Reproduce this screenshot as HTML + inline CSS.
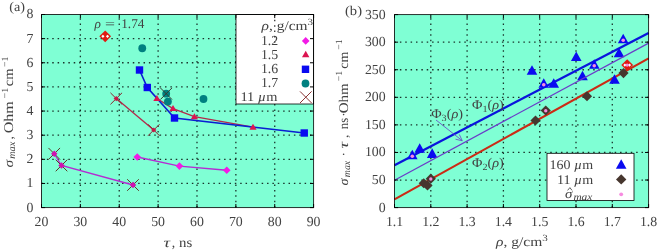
<!DOCTYPE html>
<html><head><meta charset="utf-8"><title>chart</title>
<style>html,body{margin:0;padding:0;background:#fff;}body{width:658px;height:251px;overflow:hidden;font-family:"Liberation Serif",serif;}svg{display:block;text-rendering:geometricPrecision;will-change:transform;opacity:0.999}</style>
</head><body>
<svg width="658" height="251" viewBox="0 0 658 251">
<rect width="658" height="251" fill="#fff"/>
<rect x="41.5" y="14.5" width="272.1" height="193.1" fill="#7fffd4"/>
<line x1="80.37" y1="207.6" x2="80.37" y2="14.5" stroke="#000" stroke-opacity="0.8" stroke-width="1.3" stroke-dasharray="1.5 3.87"/>
<line x1="119.24" y1="207.6" x2="119.24" y2="14.5" stroke="#000" stroke-opacity="0.8" stroke-width="1.3" stroke-dasharray="1.5 3.87"/>
<line x1="158.11" y1="207.6" x2="158.11" y2="14.5" stroke="#000" stroke-opacity="0.8" stroke-width="1.3" stroke-dasharray="1.5 3.87"/>
<line x1="196.99" y1="207.6" x2="196.99" y2="14.5" stroke="#000" stroke-opacity="0.8" stroke-width="1.3" stroke-dasharray="1.5 3.87"/>
<line x1="235.86" y1="207.6" x2="235.86" y2="14.5" stroke="#000" stroke-opacity="0.8" stroke-width="1.3" stroke-dasharray="1.5 3.87"/>
<line x1="274.73" y1="207.6" x2="274.73" y2="14.5" stroke="#000" stroke-opacity="0.8" stroke-width="1.3" stroke-dasharray="1.5 3.87"/>
<line x1="41.5" y1="38.64" x2="313.6" y2="38.64" stroke="#000" stroke-opacity="0.8" stroke-width="1.3" stroke-dasharray="1.5 3.87"/>
<line x1="41.5" y1="62.77" x2="313.6" y2="62.77" stroke="#000" stroke-opacity="0.8" stroke-width="1.3" stroke-dasharray="1.5 3.87"/>
<line x1="41.5" y1="86.91" x2="313.6" y2="86.91" stroke="#000" stroke-opacity="0.8" stroke-width="1.3" stroke-dasharray="1.5 3.87"/>
<line x1="41.5" y1="111.05" x2="313.6" y2="111.05" stroke="#000" stroke-opacity="0.8" stroke-width="1.3" stroke-dasharray="1.5 3.87"/>
<line x1="41.5" y1="135.19" x2="313.6" y2="135.19" stroke="#000" stroke-opacity="0.8" stroke-width="1.3" stroke-dasharray="1.5 3.87"/>
<line x1="41.5" y1="159.32" x2="313.6" y2="159.32" stroke="#000" stroke-opacity="0.8" stroke-width="1.3" stroke-dasharray="1.5 3.87"/>
<line x1="41.5" y1="183.46" x2="313.6" y2="183.46" stroke="#000" stroke-opacity="0.8" stroke-width="1.3" stroke-dasharray="1.5 3.87"/>
<polyline points="54.25,153.75 61.50,165.50 133.00,185.00" fill="none" stroke="#b42cd2" stroke-width="1.3"/>
<path d="M48.45,147.95 L60.05,159.55 M48.45,159.55 L60.05,147.95" stroke="#5a3c28" stroke-width="1" fill="none"/>
<path d="M51.05,153.75 L54.25,150.55 L57.45,153.75 L54.25,156.95Z" fill="#d010b0" stroke="none" stroke-width="0"/>
<path d="M55.70,159.70 L67.30,171.30 M55.70,171.30 L67.30,159.70" stroke="#5a3c28" stroke-width="1" fill="none"/>
<path d="M58.30,165.50 L61.50,162.30 L64.70,165.50 L61.50,168.70Z" fill="#d010b0" stroke="none" stroke-width="0"/>
<path d="M127.20,179.20 L138.80,190.80 M127.20,190.80 L138.80,179.20" stroke="#5a3c28" stroke-width="1" fill="none"/>
<path d="M129.80,185.00 L133.00,181.80 L136.20,185.00 L133.00,188.20Z" fill="#d010b0" stroke="none" stroke-width="0"/>
<polyline points="116.25,98.60 153.75,130.00" fill="none" stroke="#b4284a" stroke-width="1.3"/>
<path d="M110.45,92.80 L122.05,104.40 M110.45,104.40 L122.05,92.80" stroke="#8a2830" stroke-width="1" fill="none"/>
<path d="M113.65,98.60 L116.25,96.00 L118.85,98.60 L116.25,101.20Z" fill="#c81848" stroke="none" stroke-width="0"/>
<path d="M147.95,124.20 L159.55,135.80 M147.95,135.80 L159.55,124.20" stroke="#8a2830" stroke-width="1" fill="none"/>
<path d="M151.15,130.00 L153.75,127.40 L156.35,130.00 L153.75,132.60Z" fill="#c81848" stroke="none" stroke-width="0"/>
<polyline points="137.25,157.00 179.40,166.10 226.75,170.25" fill="none" stroke="#b42cd2" stroke-width="1.3"/>
<path d="M133.45,157.00 L137.25,153.20 L141.05,157.00 L137.25,160.80Z" fill="#f21ae6" stroke="none" stroke-width="0"/>
<path d="M175.60,166.10 L179.40,162.30 L183.20,166.10 L179.40,169.90Z" fill="#f21ae6" stroke="none" stroke-width="0"/>
<path d="M222.95,170.25 L226.75,166.45 L230.55,170.25 L226.75,174.05Z" fill="#f21ae6" stroke="none" stroke-width="0"/>
<polyline points="156.90,98.50 173.00,108.60 194.40,116.70 253.00,127.20" fill="none" stroke="#b4284a" stroke-width="1.25"/>
<polyline points="139.50,70.00 147.30,87.50 174.50,118.00 304.25,133.00" fill="none" stroke="#0a1ed2" stroke-width="1.6"/>
<path d="M153.30,101.02 L156.90,95.02 L160.50,101.02Z" fill="#dc1450" stroke="none" stroke-width="0"/>
<path d="M169.40,111.12 L173.00,105.12 L176.60,111.12Z" fill="#dc1450" stroke="none" stroke-width="0"/>
<path d="M190.80,119.22 L194.40,113.22 L198.00,119.22Z" fill="#dc1450" stroke="none" stroke-width="0"/>
<path d="M249.40,129.72 L253.00,123.72 L256.60,129.72Z" fill="#dc1450" stroke="none" stroke-width="0"/>
<rect x="135.80" y="66.30" width="7.4" height="7.4" fill="#0a0af0"/>
<rect x="143.60" y="83.80" width="7.4" height="7.4" fill="#0a0af0"/>
<rect x="170.80" y="114.30" width="7.4" height="7.4" fill="#0a0af0"/>
<rect x="300.55" y="129.30" width="7.4" height="7.4" fill="#0a0af0"/>
<circle cx="142.25" cy="48.25" r="3.9" fill="#008080"/>
<circle cx="166.20" cy="93.70" r="3.9" fill="#008080"/>
<circle cx="167.90" cy="101.60" r="3.9" fill="#008080"/>
<circle cx="203.50" cy="99.00" r="3.9" fill="#008080"/>
<path d="M160.40,87.90 L172.00,99.50 M160.40,99.50 L172.00,87.90" stroke="#3a3a30" stroke-width="1" fill="none"/>
<path d="M99.30,36.30 L105.20,30.40 L111.10,36.30 L105.20,42.20Z" fill="#e01a10" stroke="none" stroke-width="0"/>
<path d="M101.30,36.30 L102.90,34.70 L104.50,36.30 L102.90,37.90Z" fill="#fff" stroke="none" stroke-width="0"/>
<path d="M105.90,36.30 L107.50,34.70 L109.10,36.30 L107.50,37.90Z" fill="#fff" stroke="none" stroke-width="0"/>
<rect x="236" y="14.5" width="77.60000000000002" height="89.5" fill="#fff" stroke="#000" stroke-width="0.8"/>
<line x1="274.73" y1="14.5" x2="274.73" y2="44" stroke="#000" stroke-opacity="0.8" stroke-width="1.3" stroke-dasharray="1.5 3.87"/>
<rect x="41.5" y="14.5" width="272.1" height="193.1" fill="none" stroke="#000" stroke-opacity="0.9" stroke-width="0.9"/>
<line x1="41.50" y1="207.6" x2="41.50" y2="204.0" stroke="#000" stroke-width="1"/>
<line x1="41.50" y1="14.5" x2="41.50" y2="18.1" stroke="#000" stroke-width="1"/>
<line x1="80.37" y1="207.6" x2="80.37" y2="204.0" stroke="#000" stroke-width="1"/>
<line x1="80.37" y1="14.5" x2="80.37" y2="18.1" stroke="#000" stroke-width="1"/>
<line x1="119.24" y1="207.6" x2="119.24" y2="204.0" stroke="#000" stroke-width="1"/>
<line x1="119.24" y1="14.5" x2="119.24" y2="18.1" stroke="#000" stroke-width="1"/>
<line x1="158.11" y1="207.6" x2="158.11" y2="204.0" stroke="#000" stroke-width="1"/>
<line x1="158.11" y1="14.5" x2="158.11" y2="18.1" stroke="#000" stroke-width="1"/>
<line x1="196.99" y1="207.6" x2="196.99" y2="204.0" stroke="#000" stroke-width="1"/>
<line x1="196.99" y1="14.5" x2="196.99" y2="18.1" stroke="#000" stroke-width="1"/>
<line x1="235.86" y1="207.6" x2="235.86" y2="204.0" stroke="#000" stroke-width="1"/>
<line x1="235.86" y1="14.5" x2="235.86" y2="18.1" stroke="#000" stroke-width="1"/>
<line x1="274.73" y1="207.6" x2="274.73" y2="204.0" stroke="#000" stroke-width="1"/>
<line x1="274.73" y1="14.5" x2="274.73" y2="18.1" stroke="#000" stroke-width="1"/>
<line x1="313.60" y1="207.6" x2="313.60" y2="204.0" stroke="#000" stroke-width="1"/>
<line x1="313.60" y1="14.5" x2="313.60" y2="18.1" stroke="#000" stroke-width="1"/>
<line x1="41.5" y1="14.50" x2="45.1" y2="14.50" stroke="#000" stroke-width="1"/>
<line x1="313.6" y1="14.50" x2="310.0" y2="14.50" stroke="#000" stroke-width="1"/>
<line x1="41.5" y1="38.64" x2="45.1" y2="38.64" stroke="#000" stroke-width="1"/>
<line x1="313.6" y1="38.64" x2="310.0" y2="38.64" stroke="#000" stroke-width="1"/>
<line x1="41.5" y1="62.77" x2="45.1" y2="62.77" stroke="#000" stroke-width="1"/>
<line x1="313.6" y1="62.77" x2="310.0" y2="62.77" stroke="#000" stroke-width="1"/>
<line x1="41.5" y1="86.91" x2="45.1" y2="86.91" stroke="#000" stroke-width="1"/>
<line x1="313.6" y1="86.91" x2="310.0" y2="86.91" stroke="#000" stroke-width="1"/>
<line x1="41.5" y1="111.05" x2="45.1" y2="111.05" stroke="#000" stroke-width="1"/>
<line x1="313.6" y1="111.05" x2="310.0" y2="111.05" stroke="#000" stroke-width="1"/>
<line x1="41.5" y1="135.19" x2="45.1" y2="135.19" stroke="#000" stroke-width="1"/>
<line x1="313.6" y1="135.19" x2="310.0" y2="135.19" stroke="#000" stroke-width="1"/>
<line x1="41.5" y1="159.32" x2="45.1" y2="159.32" stroke="#000" stroke-width="1"/>
<line x1="313.6" y1="159.32" x2="310.0" y2="159.32" stroke="#000" stroke-width="1"/>
<line x1="41.5" y1="183.46" x2="45.1" y2="183.46" stroke="#000" stroke-width="1"/>
<line x1="313.6" y1="183.46" x2="310.0" y2="183.46" stroke="#000" stroke-width="1"/>
<line x1="41.5" y1="207.60" x2="45.1" y2="207.60" stroke="#000" stroke-width="1"/>
<line x1="313.6" y1="207.60" x2="310.0" y2="207.60" stroke="#000" stroke-width="1"/>
<text x="94.4" y="28" font-family="Liberation Serif, serif" font-size="13.3" text-anchor="start" fill="#424242" font-style="italic">ρ</text>
<text x="105" y="28" font-family="Liberation Serif, serif" font-size="13.3" text-anchor="start" fill="#424242" lengthAdjust="spacingAndGlyphs" textLength="10">=</text>
<text x="121.2" y="28" font-family="Liberation Serif, serif" font-size="13.3" text-anchor="start" fill="#424242"  textLength="23.2" lengthAdjust="spacingAndGlyphs">1.74</text>
<text x="261.5" y="30" font-family="Liberation Serif, serif" font-size="13.3" text-anchor="start" fill="#424242"  textLength="51.6" lengthAdjust="spacingAndGlyphs"><tspan font-style="italic">ρ</tspan>, g/cm<tspan font-size="9.5" dy="-5">3</tspan></text>
<text x="278.2" y="44.9" font-family="Liberation Serif, serif" font-size="13.8" text-anchor="end" fill="#424242" >1.2</text>
<text x="278.2" y="58.8" font-family="Liberation Serif, serif" font-size="13.8" text-anchor="end" fill="#424242" >1.5</text>
<text x="278.2" y="72.9" font-family="Liberation Serif, serif" font-size="13.8" text-anchor="end" fill="#424242" >1.6</text>
<text x="278.2" y="87.3" font-family="Liberation Serif, serif" font-size="13.8" text-anchor="end" fill="#424242" >1.7</text>
<text x="240.4" y="101.4" font-family="Liberation Serif, serif" font-size="13.3" text-anchor="start" fill="#424242"  textLength="37" lengthAdjust="spacingAndGlyphs">11 <tspan font-style="italic">µ</tspan>m</text>
<path d="M301.90,40.90 L305.70,37.10 L309.50,40.90 L305.70,44.70Z" fill="#f21ae6" stroke="none" stroke-width="0"/>
<path d="M302.00,57.37 L305.70,50.77 L309.40,57.37Z" fill="#dc1450" stroke="none" stroke-width="0"/>
<rect x="301.80" y="65.60" width="7.4" height="7.4" fill="#0a0af0"/>
<circle cx="305.50" cy="83.50" r="3.9" fill="#008080"/>
<path d="M300.00,91.40 L311.60,103.00 M300.00,103.00 L311.60,91.40" stroke="#8a3434" stroke-width="1" fill="none"/>
<text x="41.50" y="226.4" font-family="Liberation Serif, serif" font-size="13.8" text-anchor="middle" fill="#424242" >20</text>
<text x="80.37" y="226.4" font-family="Liberation Serif, serif" font-size="13.8" text-anchor="middle" fill="#424242" >30</text>
<text x="119.24" y="226.4" font-family="Liberation Serif, serif" font-size="13.8" text-anchor="middle" fill="#424242" >40</text>
<text x="158.11" y="226.4" font-family="Liberation Serif, serif" font-size="13.8" text-anchor="middle" fill="#424242" >50</text>
<text x="196.99" y="226.4" font-family="Liberation Serif, serif" font-size="13.8" text-anchor="middle" fill="#424242" >60</text>
<text x="235.86" y="226.4" font-family="Liberation Serif, serif" font-size="13.8" text-anchor="middle" fill="#424242" >70</text>
<text x="274.73" y="226.4" font-family="Liberation Serif, serif" font-size="13.8" text-anchor="middle" fill="#424242" >80</text>
<text x="313.60" y="226.4" font-family="Liberation Serif, serif" font-size="13.8" text-anchor="middle" fill="#424242" >90</text>
<text x="33.4" y="211.50" font-family="Liberation Serif, serif" font-size="13.8" text-anchor="end" fill="#424242" >0</text>
<text x="33.4" y="187.36" font-family="Liberation Serif, serif" font-size="13.8" text-anchor="end" fill="#424242" >1</text>
<text x="33.4" y="163.22" font-family="Liberation Serif, serif" font-size="13.8" text-anchor="end" fill="#424242" >2</text>
<text x="33.4" y="139.09" font-family="Liberation Serif, serif" font-size="13.8" text-anchor="end" fill="#424242" >3</text>
<text x="33.4" y="114.95" font-family="Liberation Serif, serif" font-size="13.8" text-anchor="end" fill="#424242" >4</text>
<text x="33.4" y="90.81" font-family="Liberation Serif, serif" font-size="13.8" text-anchor="end" fill="#424242" >5</text>
<text x="33.4" y="66.68" font-family="Liberation Serif, serif" font-size="13.8" text-anchor="end" fill="#424242" >6</text>
<text x="33.4" y="42.54" font-family="Liberation Serif, serif" font-size="13.8" text-anchor="end" fill="#424242" >7</text>
<text x="33.4" y="18.40" font-family="Liberation Serif, serif" font-size="13.8" text-anchor="end" fill="#424242" >8</text>
<text x="9.2" y="11.3" font-family="Liberation Serif, serif" font-size="13.3" text-anchor="start" fill="#424242"  textLength="15.8" lengthAdjust="spacingAndGlyphs">(a)</text>
<g transform="translate(0,0) rotate(0)">
<text x="163.6" y="246.6" font-family="Liberation Serif, serif" font-size="13.8" fill="#424242" font-style="italic" textLength="6.6" lengthAdjust="spacingAndGlyphs">τ</text>
<text x="171.8" y="246.6" font-family="Liberation Serif, serif" font-size="13.8" fill="#424242">,</text>
<text x="179.0" y="246.6" font-family="Liberation Serif, serif" font-size="13.8" fill="#424242" textLength="13.2" lengthAdjust="spacingAndGlyphs">ns</text>
</g>
<g transform="translate(12.7,167.4) rotate(-90)">
<text x="0" y="0" font-family="Liberation Serif, serif" font-size="13.3" fill="#424242" font-style="italic" textLength="7.6" lengthAdjust="spacingAndGlyphs">σ</text>
<text x="8.6" y="2.4" font-family="Liberation Serif, serif" font-size="9.8" fill="#424242" font-style="italic" textLength="17" lengthAdjust="spacingAndGlyphs">max</text>
<text x="27.8" y="0" font-family="Liberation Serif, serif" font-size="13.3" fill="#424242">,</text>
<text x="34.2" y="0" font-family="Liberation Serif, serif" font-size="13.3" fill="#424242" textLength="32.0" lengthAdjust="spacingAndGlyphs">Ohm</text>
<text x="69.0" y="-5.2" font-family="Liberation Serif, serif" font-size="9.5" fill="#424242" textLength="10.6" lengthAdjust="spacingAndGlyphs">−1</text>
<text x="81.2" y="0" font-family="Liberation Serif, serif" font-size="13.3" fill="#424242" textLength="17.8" lengthAdjust="spacingAndGlyphs">cm</text>
<text x="100.3" y="-5.2" font-family="Liberation Serif, serif" font-size="9.5" fill="#424242" textLength="10.4" lengthAdjust="spacingAndGlyphs">−1</text>
</g>
<rect x="394.5" y="14.6" width="254.10000000000002" height="193.0" fill="#7fffd4"/>
<line x1="430.80" y1="207.6" x2="430.80" y2="14.6" stroke="#000" stroke-opacity="0.8" stroke-width="1.3" stroke-dasharray="1.5 3.87"/>
<line x1="467.10" y1="207.6" x2="467.10" y2="14.6" stroke="#000" stroke-opacity="0.8" stroke-width="1.3" stroke-dasharray="1.5 3.87"/>
<line x1="503.40" y1="207.6" x2="503.40" y2="14.6" stroke="#000" stroke-opacity="0.8" stroke-width="1.3" stroke-dasharray="1.5 3.87"/>
<line x1="539.70" y1="207.6" x2="539.70" y2="14.6" stroke="#000" stroke-opacity="0.8" stroke-width="1.3" stroke-dasharray="1.5 3.87"/>
<line x1="576.00" y1="207.6" x2="576.00" y2="14.6" stroke="#000" stroke-opacity="0.8" stroke-width="1.3" stroke-dasharray="1.5 3.87"/>
<line x1="612.30" y1="207.6" x2="612.30" y2="14.6" stroke="#000" stroke-opacity="0.8" stroke-width="1.3" stroke-dasharray="1.5 3.87"/>
<line x1="394.5" y1="42.17" x2="648.6" y2="42.17" stroke="#000" stroke-opacity="0.8" stroke-width="1.3" stroke-dasharray="1.5 3.87"/>
<line x1="394.5" y1="69.74" x2="648.6" y2="69.74" stroke="#000" stroke-opacity="0.8" stroke-width="1.3" stroke-dasharray="1.5 3.87"/>
<line x1="394.5" y1="97.31" x2="648.6" y2="97.31" stroke="#000" stroke-opacity="0.8" stroke-width="1.3" stroke-dasharray="1.5 3.87"/>
<line x1="394.5" y1="124.89" x2="648.6" y2="124.89" stroke="#000" stroke-opacity="0.8" stroke-width="1.3" stroke-dasharray="1.5 3.87"/>
<line x1="394.5" y1="152.46" x2="648.6" y2="152.46" stroke="#000" stroke-opacity="0.8" stroke-width="1.3" stroke-dasharray="1.5 3.87"/>
<line x1="394.5" y1="180.03" x2="648.6" y2="180.03" stroke="#000" stroke-opacity="0.8" stroke-width="1.3" stroke-dasharray="1.5 3.87"/>
<line x1="394.5" y1="199.4" x2="648.6" y2="58.3" stroke="#cc2a14" stroke-width="2.1"/>
<line x1="394.5" y1="165.2" x2="648.6" y2="32.9" stroke="#0a14dc" stroke-width="2.3"/>
<line x1="436" y1="120" x2="462" y2="140.5" stroke="#6a3cc8" stroke-width="0.8"/>
<path d="M462.3,140.8 L455.5,139.2 M462.3,140.8 L459.3,134.4" stroke="#6a3cc8" stroke-width="0.8" fill="none"/>
<path d="M418.65,183.25 L423.75,178.15 L428.85,183.25 L423.75,188.35Z" fill="#46362e" stroke="none" stroke-width="0"/>
<path d="M422.40,185.50 L427.50,180.40 L432.60,185.50 L427.50,190.60Z" fill="#46362e" stroke="none" stroke-width="0"/>
<path d="M425.70,178.70 L430.80,173.60 L435.90,178.70 L430.80,183.80Z" fill="#46362e" stroke="none" stroke-width="0"/>
<circle cx="430.80" cy="179.00" r="1.7" fill="#f78be0"/>
<path d="M581.90,96.25 L587.00,91.15 L592.10,96.25 L587.00,101.35Z" fill="#46362e" stroke="none" stroke-width="0"/>
<path d="M540.65,110.50 L545.75,105.40 L550.85,110.50 L545.75,115.60Z" fill="#46362e" stroke="none" stroke-width="0"/>
<circle cx="545.75" cy="110.80" r="1.7" fill="#f78be0"/>
<path d="M530.40,120.50 L535.50,115.40 L540.60,120.50 L535.50,125.60Z" fill="#46362e" stroke="none" stroke-width="0"/>
<path d="M618.40,73.10 L623.50,68.00 L628.60,73.10 L623.50,78.20Z" fill="#46362e" stroke="none" stroke-width="0"/>
<path d="M414.40,152.83 L419.70,143.23 L425.00,152.83Z" fill="#0a0af0" stroke="none" stroke-width="0"/>
<path d="M426.90,157.93 L432.20,148.33 L437.50,157.93Z" fill="#0a0af0" stroke="none" stroke-width="0"/>
<path d="M407.00,159.23 L412.30,149.63 L417.60,159.23Z" fill="#0a0af0" stroke="none" stroke-width="0"/>
<circle cx="412.30" cy="156.20" r="1.8" fill="#f78be0"/>
<path d="M570.95,61.03 L576.25,51.43 L581.55,61.03Z" fill="#0a0af0" stroke="none" stroke-width="0"/>
<path d="M526.70,74.78 L532.00,65.18 L537.30,74.78Z" fill="#0a0af0" stroke="none" stroke-width="0"/>
<path d="M588.95,68.73 L594.25,59.13 L599.55,68.73Z" fill="#0a0af0" stroke="none" stroke-width="0"/>
<circle cx="594.25" cy="65.70" r="1.8" fill="#f78be0"/>
<path d="M577.20,80.28 L582.50,70.68 L587.80,80.28Z" fill="#0a0af0" stroke="none" stroke-width="0"/>
<path d="M538.45,87.78 L543.75,78.18 L549.05,87.78Z" fill="#0a0af0" stroke="none" stroke-width="0"/>
<circle cx="543.75" cy="84.75" r="1.8" fill="#f78be0"/>
<path d="M548.45,87.78 L553.75,78.18 L559.05,87.78Z" fill="#0a0af0" stroke="none" stroke-width="0"/>
<path d="M617.90,43.33 L623.20,33.73 L628.50,43.33Z" fill="#0a0af0" stroke="none" stroke-width="0"/>
<circle cx="623.20" cy="40.30" r="1.8" fill="#f78be0"/>
<path d="M613.70,57.33 L619.00,47.73 L624.30,57.33Z" fill="#0a0af0" stroke="none" stroke-width="0"/>
<path d="M609.20,83.83 L614.50,74.23 L619.80,83.83Z" fill="#0a0af0" stroke="none" stroke-width="0"/>
<line x1="394.5" y1="180.2" x2="648.6" y2="43.1" stroke="#6a3cc8" stroke-width="1.2"/>
<path d="M621.30,65.10 L627.20,59.20 L633.10,65.10 L627.20,71.00Z" fill="#e01a10" stroke="none" stroke-width="0"/>
<path d="M623.30,65.10 L624.90,63.50 L626.50,65.10 L624.90,66.70Z" fill="#fff" stroke="none" stroke-width="0"/>
<path d="M627.90,65.10 L629.50,63.50 L631.10,65.10 L629.50,66.70Z" fill="#fff" stroke="none" stroke-width="0"/>
<circle cx="627.20" cy="65.10" r="1.7" fill="#f78be0"/>
<rect x="547" y="153.3" width="87" height="47.19999999999999" fill="#fff" stroke="#000" stroke-width="0.8"/>
<text x="549.6" y="168.7" font-family="Liberation Serif, serif" font-size="13.3" text-anchor="start" fill="#424242"  textLength="43.5" lengthAdjust="spacingAndGlyphs">160 <tspan font-style="italic">µ</tspan>m</text>
<text x="557" y="183.5" font-family="Liberation Serif, serif" font-size="13.3" text-anchor="start" fill="#424242"  textLength="36.2" lengthAdjust="spacingAndGlyphs">11 <tspan font-style="italic">µ</tspan>m</text>
<text x="565" y="197.8" font-family="Liberation Serif, serif" font-size="13.3" text-anchor="start" fill="#424242" font-style="italic" textLength="7.4" lengthAdjust="spacingAndGlyphs">σ</text>
<path d="M567.6,190.4 L569.9,187.6 L572.0,190.4" fill="none" stroke="#3a3a3a" stroke-width="0.8"/>
<text x="573.4" y="199.6" font-family="Liberation Serif, serif" font-size="9.8" text-anchor="start" fill="#424242" font-style="italic" lengthAdjust="spacingAndGlyphs" textLength="19">max</text>
<path d="M615.90,168.83 L621.20,159.23 L626.50,168.83Z" fill="#0a0af0" stroke="none" stroke-width="0"/>
<path d="M616.00,179.40 L621.20,174.20 L626.40,179.40 L621.20,184.60Z" fill="#46362e" stroke="none" stroke-width="0"/>
<circle cx="621.20" cy="194.30" r="1.9" fill="#f78be0"/>
<rect x="394.5" y="14.6" width="254.10000000000002" height="193.0" fill="none" stroke="#000" stroke-opacity="0.9" stroke-width="0.9"/>
<line x1="394.50" y1="207.6" x2="394.50" y2="204.0" stroke="#000" stroke-width="1"/>
<line x1="394.50" y1="14.6" x2="394.50" y2="18.2" stroke="#000" stroke-width="1"/>
<line x1="430.80" y1="207.6" x2="430.80" y2="204.0" stroke="#000" stroke-width="1"/>
<line x1="430.80" y1="14.6" x2="430.80" y2="18.2" stroke="#000" stroke-width="1"/>
<line x1="467.10" y1="207.6" x2="467.10" y2="204.0" stroke="#000" stroke-width="1"/>
<line x1="467.10" y1="14.6" x2="467.10" y2="18.2" stroke="#000" stroke-width="1"/>
<line x1="503.40" y1="207.6" x2="503.40" y2="204.0" stroke="#000" stroke-width="1"/>
<line x1="503.40" y1="14.6" x2="503.40" y2="18.2" stroke="#000" stroke-width="1"/>
<line x1="539.70" y1="207.6" x2="539.70" y2="204.0" stroke="#000" stroke-width="1"/>
<line x1="539.70" y1="14.6" x2="539.70" y2="18.2" stroke="#000" stroke-width="1"/>
<line x1="576.00" y1="207.6" x2="576.00" y2="204.0" stroke="#000" stroke-width="1"/>
<line x1="576.00" y1="14.6" x2="576.00" y2="18.2" stroke="#000" stroke-width="1"/>
<line x1="612.30" y1="207.6" x2="612.30" y2="204.0" stroke="#000" stroke-width="1"/>
<line x1="612.30" y1="14.6" x2="612.30" y2="18.2" stroke="#000" stroke-width="1"/>
<line x1="648.60" y1="207.6" x2="648.60" y2="204.0" stroke="#000" stroke-width="1"/>
<line x1="648.60" y1="14.6" x2="648.60" y2="18.2" stroke="#000" stroke-width="1"/>
<line x1="394.5" y1="14.60" x2="398.1" y2="14.60" stroke="#000" stroke-width="1"/>
<line x1="648.6" y1="14.60" x2="645.0" y2="14.60" stroke="#000" stroke-width="1"/>
<line x1="394.5" y1="42.17" x2="398.1" y2="42.17" stroke="#000" stroke-width="1"/>
<line x1="648.6" y1="42.17" x2="645.0" y2="42.17" stroke="#000" stroke-width="1"/>
<line x1="394.5" y1="69.74" x2="398.1" y2="69.74" stroke="#000" stroke-width="1"/>
<line x1="648.6" y1="69.74" x2="645.0" y2="69.74" stroke="#000" stroke-width="1"/>
<line x1="394.5" y1="97.31" x2="398.1" y2="97.31" stroke="#000" stroke-width="1"/>
<line x1="648.6" y1="97.31" x2="645.0" y2="97.31" stroke="#000" stroke-width="1"/>
<line x1="394.5" y1="124.89" x2="398.1" y2="124.89" stroke="#000" stroke-width="1"/>
<line x1="648.6" y1="124.89" x2="645.0" y2="124.89" stroke="#000" stroke-width="1"/>
<line x1="394.5" y1="152.46" x2="398.1" y2="152.46" stroke="#000" stroke-width="1"/>
<line x1="648.6" y1="152.46" x2="645.0" y2="152.46" stroke="#000" stroke-width="1"/>
<line x1="394.5" y1="180.03" x2="398.1" y2="180.03" stroke="#000" stroke-width="1"/>
<line x1="648.6" y1="180.03" x2="645.0" y2="180.03" stroke="#000" stroke-width="1"/>
<line x1="394.5" y1="207.60" x2="398.1" y2="207.60" stroke="#000" stroke-width="1"/>
<line x1="648.6" y1="207.60" x2="645.0" y2="207.60" stroke="#000" stroke-width="1"/>
<text x="431.2" y="118" font-family="Liberation Serif, serif" font-size="13.3" text-anchor="start" fill="#424242"  textLength="31.8" lengthAdjust="spacingAndGlyphs">Φ<tspan font-size="9.5" dy="2.5">3</tspan><tspan dy="-2.5">(</tspan><tspan font-style="italic">ρ</tspan>)</text>
<text x="472" y="109" font-family="Liberation Serif, serif" font-size="13.3" text-anchor="start" fill="#424242"  textLength="31.8" lengthAdjust="spacingAndGlyphs">Φ<tspan font-size="9.5" dy="2.5">1</tspan><tspan dy="-2.5">(</tspan><tspan font-style="italic">ρ</tspan>)</text>
<text x="472" y="167" font-family="Liberation Serif, serif" font-size="13.3" text-anchor="start" fill="#424242"  textLength="31.8" lengthAdjust="spacingAndGlyphs">Φ<tspan font-size="9.5" dy="2.5">2</tspan><tspan dy="-2.5">(</tspan><tspan font-style="italic">ρ</tspan>)</text>
<text x="394.50" y="226.0" font-family="Liberation Serif, serif" font-size="13.8" text-anchor="middle" fill="#424242" >1.1</text>
<text x="430.80" y="226.0" font-family="Liberation Serif, serif" font-size="13.8" text-anchor="middle" fill="#424242" >1.2</text>
<text x="467.10" y="226.0" font-family="Liberation Serif, serif" font-size="13.8" text-anchor="middle" fill="#424242" >1.3</text>
<text x="503.40" y="226.0" font-family="Liberation Serif, serif" font-size="13.8" text-anchor="middle" fill="#424242" >1.4</text>
<text x="539.70" y="226.0" font-family="Liberation Serif, serif" font-size="13.8" text-anchor="middle" fill="#424242" >1.5</text>
<text x="576.00" y="226.0" font-family="Liberation Serif, serif" font-size="13.8" text-anchor="middle" fill="#424242" >1.6</text>
<text x="612.30" y="226.0" font-family="Liberation Serif, serif" font-size="13.8" text-anchor="middle" fill="#424242" >1.7</text>
<text x="648.60" y="226.0" font-family="Liberation Serif, serif" font-size="13.8" text-anchor="middle" fill="#424242" >1.8</text>
<text x="385.6" y="211.50" font-family="Liberation Serif, serif" font-size="13.8" text-anchor="end" fill="#424242" >0</text>
<text x="385.6" y="183.93" font-family="Liberation Serif, serif" font-size="13.8" text-anchor="end" fill="#424242" >50</text>
<text x="385.6" y="156.36" font-family="Liberation Serif, serif" font-size="13.8" text-anchor="end" fill="#424242" >100</text>
<text x="385.6" y="128.79" font-family="Liberation Serif, serif" font-size="13.8" text-anchor="end" fill="#424242" >150</text>
<text x="385.6" y="101.21" font-family="Liberation Serif, serif" font-size="13.8" text-anchor="end" fill="#424242" >200</text>
<text x="385.6" y="73.64" font-family="Liberation Serif, serif" font-size="13.8" text-anchor="end" fill="#424242" >250</text>
<text x="385.6" y="46.07" font-family="Liberation Serif, serif" font-size="13.8" text-anchor="end" fill="#424242" >300</text>
<text x="385.6" y="18.50" font-family="Liberation Serif, serif" font-size="13.8" text-anchor="end" fill="#424242" >350</text>
<text x="345" y="15.3" font-family="Liberation Serif, serif" font-size="13.3" text-anchor="start" fill="#424242"  textLength="17" lengthAdjust="spacingAndGlyphs">(b)</text>
<text x="496.1" y="245.7" font-family="Liberation Serif, serif" font-size="13.3" text-anchor="start" fill="#424242"  textLength="51.8" lengthAdjust="spacingAndGlyphs"><tspan font-style="italic">ρ</tspan>, g/cm<tspan font-size="9.5" dy="-5">3</tspan></text>
<g transform="translate(347.5,185.4) rotate(-90)">
<text x="0" y="0" font-family="Liberation Serif, serif" font-size="13.3" fill="#424242" font-style="italic" textLength="7.0" lengthAdjust="spacingAndGlyphs">σ</text>
<text x="8.2" y="2.4" font-family="Liberation Serif, serif" font-size="9.8" fill="#424242" font-style="italic" textLength="16.4" lengthAdjust="spacingAndGlyphs">max</text>
<text x="28.8" y="0" font-family="Liberation Serif, serif" font-size="13.3" fill="#424242">·</text>
<text x="37.0" y="0" font-family="Liberation Serif, serif" font-size="13.3" fill="#424242" font-style="italic" textLength="6.6" lengthAdjust="spacingAndGlyphs">τ</text>
<text x="47.5" y="0" font-family="Liberation Serif, serif" font-size="13.3" fill="#424242">,</text>
<text x="56.2" y="0" font-family="Liberation Serif, serif" font-size="13.3" fill="#424242" textLength="11.4" lengthAdjust="spacingAndGlyphs">ns</text>
<text x="68.6" y="0" font-family="Liberation Serif, serif" font-size="13.3" fill="#424242">·</text>
<text x="72.2" y="0" font-family="Liberation Serif, serif" font-size="13.3" fill="#424242" textLength="29.8" lengthAdjust="spacingAndGlyphs">Ohm</text>
<text x="104.2" y="-5.2" font-family="Liberation Serif, serif" font-size="9.5" fill="#424242" textLength="10.4" lengthAdjust="spacingAndGlyphs">−1</text>
<text x="116.7" y="0" font-family="Liberation Serif, serif" font-size="13.3" fill="#424242" textLength="17.0" lengthAdjust="spacingAndGlyphs">cm</text>
<text x="135.7" y="-5.2" font-family="Liberation Serif, serif" font-size="9.5" fill="#424242" textLength="10.4" lengthAdjust="spacingAndGlyphs">−1</text>
</g>
</svg>
</body></html>
